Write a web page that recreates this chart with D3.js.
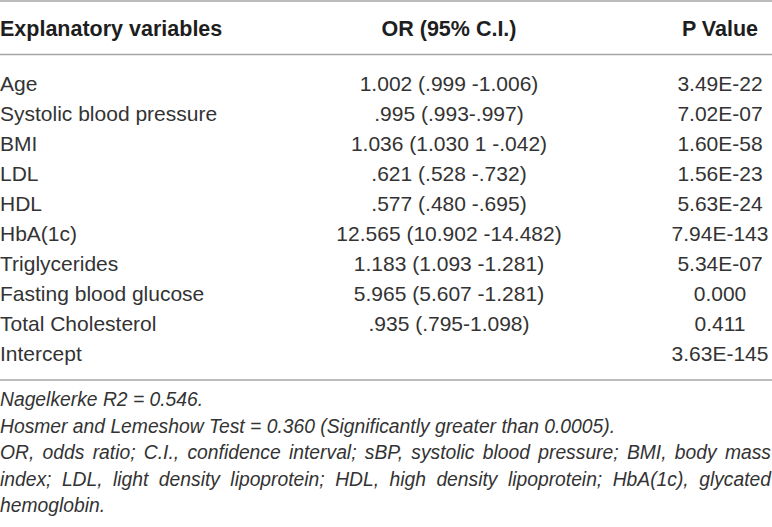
<!DOCTYPE html>
<html>
<head>
<meta charset="utf-8">
<script src="https://cdn.jsdelivr.net/npm/d3@7"></script>
<style>
  body { margin: 0; background: #fff; }
  svg { display: block; }
</style>
</head>
<body>
<div id="chart"></div>
<script>
var width = 772;
var height = 527;

var headers = ["Explanatory variables", "OR (95% C.I.)", "P Value"];

var variables = ["Age", "Systolic blood pressure", "BMI", "LDL", "HDL", "HbA(1c)",
    "Triglycerides", "Fasting blood glucose", "Total Cholesterol", "Intercept"];

var orValues = ["1.002 (.999 -1.006)", ".995 (.993-.997)", "1.036 (1.030 1 -.042)",
    ".621 (.528 -.732)", ".577 (.480 -.695)", "12.565 (10.902 -14.482)",
    "1.183 (1.093 -1.281)", "5.965 (5.607 -1.281)", ".935 (.795-1.098)", ""];

var pValues = ["3.49E-22", "7.02E-07", "1.60E-58", "1.56E-23", "5.63E-24", "7.94E-143",
    "5.34E-07", "0.000", "0.411", "3.63E-145"];

var footnotes = ["Nagelkerke R2 = 0.546.",
    "Hosmer and Lemeshow Test = 0.360 (Significantly greater than 0.0005).",
    "OR, odds ratio; C.I., confidence interval; sBP, systolic blood pressure; BMI, body mass",
    "index; LDL, light density lipoprotein; HDL, high density lipoprotein; HbA(1c), glycated",
    "hemoglobin."];
var justified = [false, false, true, true, false];

var fontFamily = "'Liberation Sans', Arial, sans-serif";
var textColor = "#333333";
var ruleColor = "#a6a6a6";

var colX = [0, 449, 720];

var svg = d3.select("#chart").append("svg")
    .attr("width", width)
    .attr("height", height);

// horizontal rules
var rules = [1, 54.5, 380];
svg.selectAll(".rule")
    .data(rules)
    .enter().append("line")
    .attr("class", "rule")
    .attr("x1", 0)
    .attr("x2", width)
    .attr("y1", function (d) { return d; })
    .attr("y2", function (d) { return d; })
    .style("stroke", ruleColor)
    .style("stroke-width", 1.5);

// header
svg.selectAll(".head")
    .data(headers)
    .enter().append("text")
    .attr("class", "head")
    .attr("x", function (d, i) { return colX[i]; })
    .attr("y", 36)
    .attr("text-anchor", function (d, i) { return i == 0 ? "start" : "middle"; })
    .style("font-family", fontFamily)
    .style("font-weight", "bold")
    .style("font-size", "21.5px")
    .style("fill", "#1e1e1e")
    .text(function (d) { return d; });

// rows
var y = d3.scalePoint()
    .domain(variables)
    .range([91, 361]);

var rows = svg.selectAll(".row")
    .data(variables)
    .enter().append("g")
    .attr("class", "row")
    .attr("transform", function (d) { return "translate(0," + y(d) + ")"; });

function cell(sel, x, anchor, fn) {
    sel.append("text")
        .attr("x", x)
        .attr("text-anchor", anchor)
        .style("font-family", fontFamily)
        .style("font-size", "21px")
        .style("fill", textColor)
        .text(fn);
}

cell(rows, colX[0], "start", function (d) { return d; });
cell(rows, colX[1], "middle", function (d, i) { return orValues[i]; });
cell(rows, colX[2], "middle", function (d, i) { return pValues[i]; });

// footnotes
var fy = d3.scalePoint()
    .domain(d3.range(footnotes.length))
    .range([406, 512]);

footnotes.forEach(function (line, k) {
    var t = svg.append("text")
        .attr("y", fy(k))
        .style("font-family", fontFamily)
        .style("font-style", "italic")
        .style("font-size", "19.3px")
        .style("fill", textColor);
    if (!justified[k]) {
        t.attr("x", 0).text(line);
        return;
    }
    var words = line.split(" ");
    var spans = words.map(function (w) { return t.append("tspan").text(w); });
    var widths = spans.map(function (s) { return s.node().getComputedTextLength(); });
    var gap = (width - 1 - d3.sum(widths)) / (words.length - 1);
    var x = 0;
    spans.forEach(function (s, i) {
        s.attr("x", x);
        x += widths[i] + gap;
    });
});
</script>
</body>
</html>
